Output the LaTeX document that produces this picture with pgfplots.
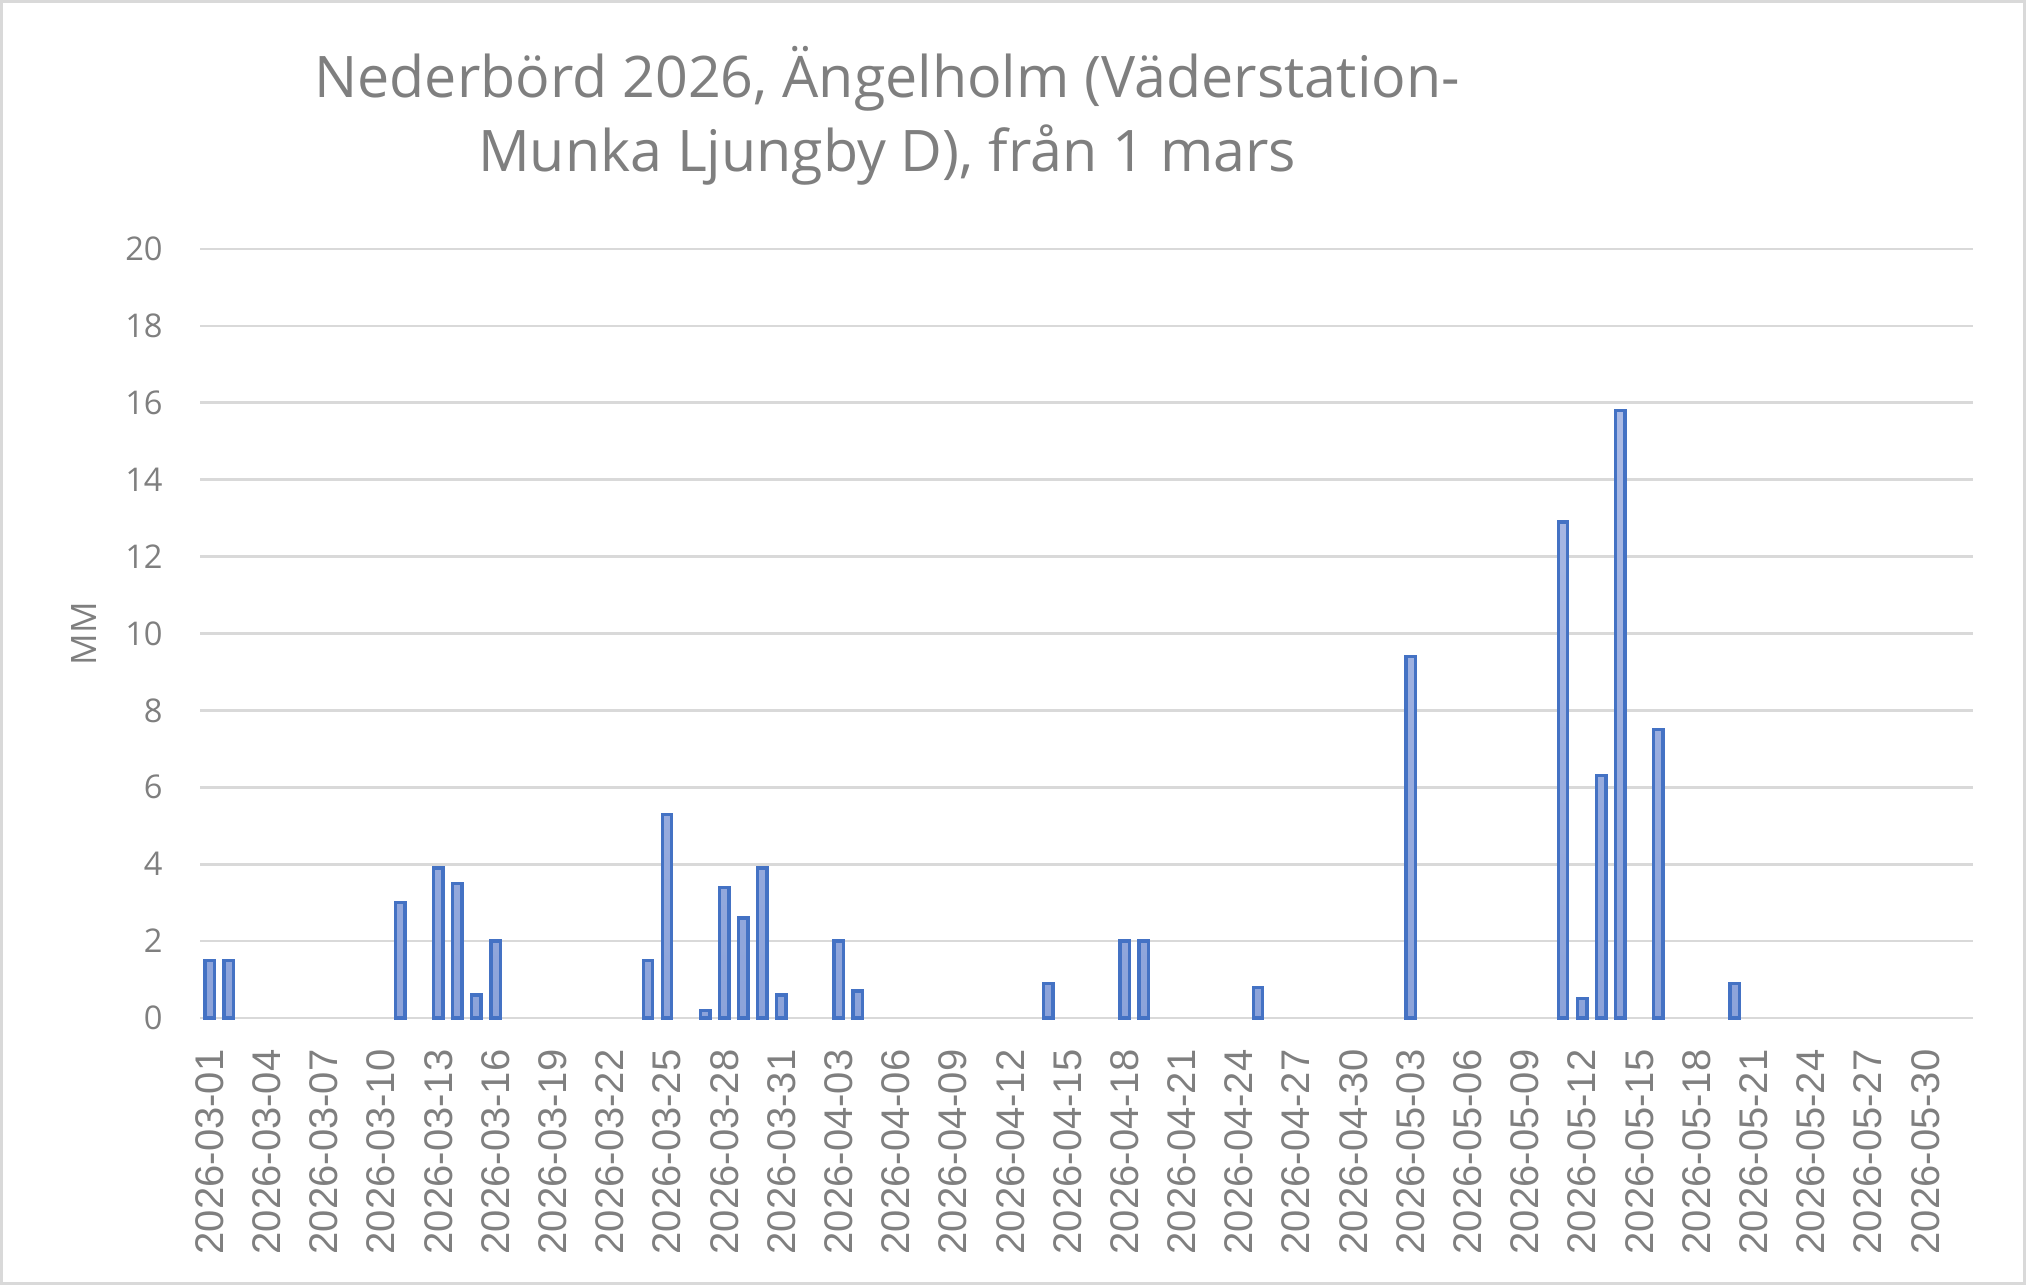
\documentclass[border=0pt]{standalone}
\usepackage{pgfplots}
\pgfplotsset{compat=1.18}
\usepackage{fontspec}
\setmainfont{Liberation Sans}
\newfontfamily\opensans{Open Sans}
\definecolor{txtgray}{HTML}{7F7F7F}
\definecolor{gridgray}{HTML}{D9D9D9}
\definecolor{barline}{HTML}{4472C4}
\definecolor{bartop}{RGB}{172,187,229}
\definecolor{barbot}{RGB}{140,163,218}
\begin{document}
\begin{tikzpicture}
\useasboundingbox (0,0) rectangle (607.8pt,385.5pt);
\draw[gridgray, line width=0.9pt] (0.45pt,0.45pt) rectangle (607.35pt,385.05pt);
\node[font=\opensans\fontsize{17.2pt}{22.2pt}\selectfont, text=txtgray, anchor=base, align=center] at (266.1pt,333.9pt)
  {Nederbörd 2026, Ängelholm (Väderstation-\\Munka Ljungby D), från 1 mars};
\begin{axis}[
  at={(60pt,80.1pt)}, anchor=south west,
  scale only axis, width=531.9pt, height=230.7pt,
  xmin=-0.5, xmax=92.5, ymin=0, ymax=20,
  ytick={0,2,...,20},
  xtick={0,3,...,90},
  xticklabels={2026-03-01,2026-03-04,2026-03-07,2026-03-10,2026-03-13,2026-03-16,2026-03-19,2026-03-22,2026-03-25,2026-03-28,2026-03-31,2026-04-03,2026-04-06,2026-04-09,2026-04-12,2026-04-15,2026-04-18,2026-04-21,2026-04-24,2026-04-27,2026-04-30,2026-05-03,2026-05-06,2026-05-09,2026-05-12,2026-05-15,2026-05-18,2026-05-21,2026-05-24,2026-05-27,2026-05-30},
  /pgf/number format/assume math mode=true,
  major tick length=0pt,
  axis line style={draw=none},
  ymajorgrids, major grid style={gridgray, line width=0.8pt},
  xticklabel style={rotate=90, anchor=east, inner sep=0pt, xshift=-9.3pt, font=\fontsize{12pt}{14pt}\selectfont, text=txtgray},
  yticklabel style={anchor=east, inner sep=0pt, xshift=-11pt, font=\opensans\fontsize{9.8pt}{12pt}\selectfont, text=txtgray},
  ylabel={MM},
  ylabel style={at={(axis description cs:0,0.5)}, anchor=center, yshift=34.8pt, font=\opensans\fontsize{10.5pt}{12pt}\selectfont, text=txtgray},
  ybar, bar width=2.8pt,
  clip=false,
]
\addplot[draw=barline, line width=1pt, top color=bartop, bottom color=barbot] coordinates {
(0,1.5) (1,1.5) (10,3.0) (12,3.9) (13,3.5) (14,0.6) (15,2.0)
(23,1.5) (24,5.3) (26,0.2) (27,3.4) (28,2.6) (29,3.9) (30,0.6)
(33,2.0) (34,0.7) (44,0.9) (48,2.0) (49,2.0) (55,0.8)
(63,9.4) (71,12.9) (72,0.5) (73,6.3) (74,15.8) (76,7.5) (80,0.9)
};
\end{axis}
\end{tikzpicture}
\end{document}
